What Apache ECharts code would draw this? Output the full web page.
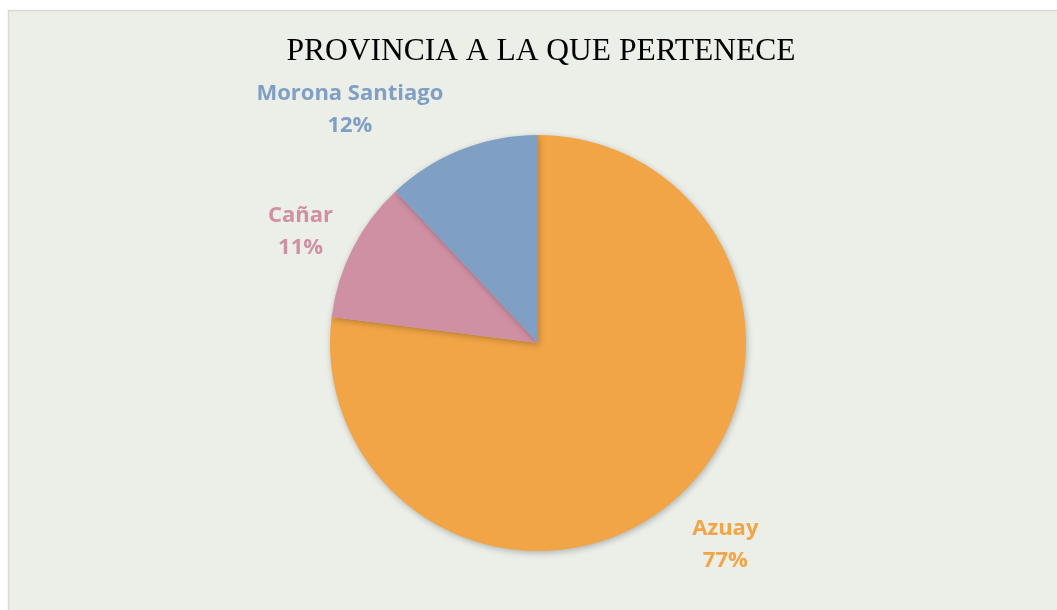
<!DOCTYPE html>
<html>
<head>
<meta charset="utf-8">
<script src="https://cdn.jsdelivr.net/npm/echarts@6/dist/echarts.min.js"></script>
<style>
  html, body { margin: 0; padding: 0; background: #ffffff; }
  #chart { width: 1057px; height: 610px; }
</style>
</head>
<body>
<div id="chart"></div>
<script>
const titleText = 'PROVINCIA A LA QUE PERTENECE';
const categories = ['Azuay', 'Cañar', 'Morona Santiago'];
const values = [77, 11, 12];
const colors = ['#F2A546', '#D090A4', '#7F9FC4'];

const chart = echarts.init(document.getElementById('chart'), null, { renderer: 'canvas' });
const labelShift = [[15, 12], [-7, 4], [-90, 2]];
chart.setOption({
  backgroundColor: '#ffffff',
  animation: false,
  graphic: [{
    type: 'rect', z: -10, silent: true,
    shape: { x: 8.5, y: 10.5, width: 1060, height: 610 },
    style: { fill: '#ECEEE8', stroke: '#D9D9D9', lineWidth: 1.5 }
  }],
  title: {
    text: titleText,
    left: 536,
    textAlign: 'center',
    top: 31,
    textStyle: { fontFamily: 'Liberation Serif', fontWeight: 'normal', fontSize: 31.5, color: '#000000' }
  },
  series: [{
    type: 'pie',
    center: [538, 343],
    radius: 208,
    startAngle: 90,
    clockwise: true,
    data: categories.map((c, i) => ({ name: c, value: values[i], itemStyle: { color: colors[i] },
      label: { color: colors[i] } })),
    itemStyle: { shadowBlur: 6, shadowColor: 'rgba(0,0,0,0.25)', shadowOffsetX: 1, shadowOffsetY: 2 },
    label: {
      show: true,
      position: 'outside',
      formatter: '{b}\n{d}%',
      fontFamily: 'Open Sans',
      fontWeight: 'bold',
      fontSize: 22,
      lineHeight: 32,
      align: 'center'
    },
    labelLine: { show: false, length: 45, length2: 0 },
    labelLayout: function (p) {
      const s = labelShift[p.dataIndex];
      return { align: 'center', verticalAlign: 'middle', dx: s[0], dy: s[1] };
    }
  }]
});
</script>
</body>
</html>
